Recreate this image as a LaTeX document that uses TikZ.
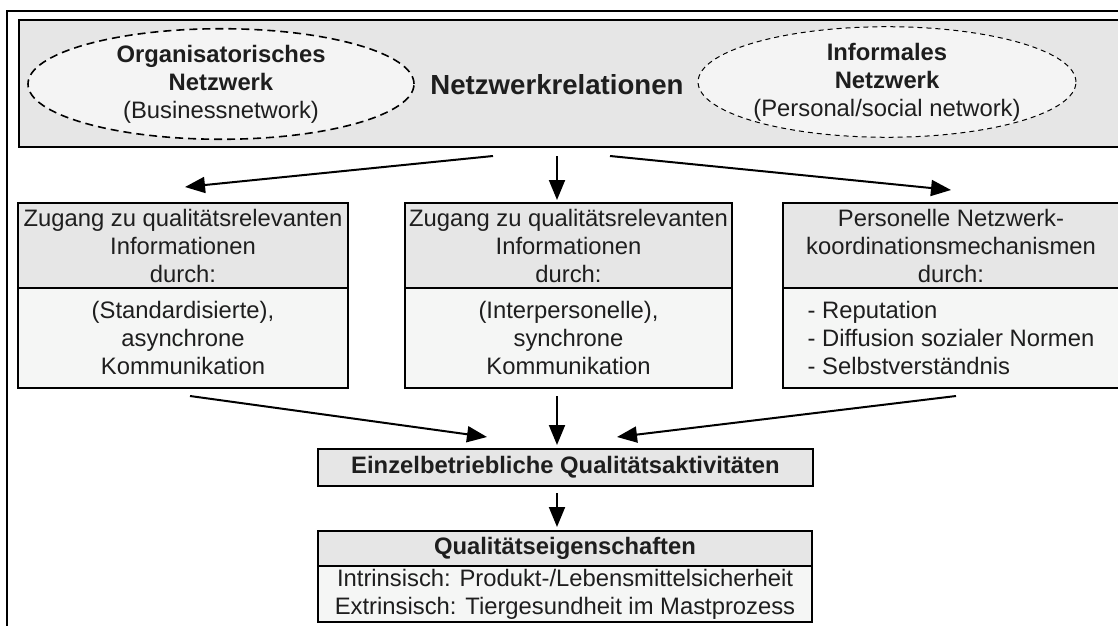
\documentclass[tikz,border=0pt]{standalone}
\usepackage{fontspec}
\setmainfont{Liberation Sans}
\usetikzlibrary{arrows.meta,positioning,shapes.geometric}

\definecolor{kopfgrau}{HTML}{E6E6E6}
\definecolor{rumpfgrau}{HTML}{F5F6F5}
\definecolor{ovalgrau}{HTML}{F4F4F4}
\definecolor{schrift}{HTML}{1E1E1E}

\tikzset{
  kopf/.style={draw, line width=0.8pt, fill=kopfgrau, outer sep=0, inner sep=0, align=center},
  rumpf/.style={draw, line width=0.8pt, fill=rumpfgrau, outer sep=0, inner sep=0, align=center},
  oval/.style={ellipse, draw, dashed, fill=ovalgrau, outer sep=0, inner sep=0, align=center},
  pfeil/.style={line width=1pt, -{Triangle[length=10pt,width=8pt]}},
}

\begin{document}
\begin{tikzpicture}[x=0.5pt, y=-0.5pt, text=schrift, font=\fontsize{11.9}{14}\selectfont]
        \useasboundingbox (0,0) rectangle (1118,626);
        \fill[white] (0,0) rectangle (1118,626);
%%% Start Rahmen
        \draw[line width=0.8pt] (1118,11) -- (7,11) -- (7,626);
%%% End Rahmen
%%% Start Netzwerkrelationen
        \draw (570.5,83.5) node[kopf, line width=1pt, minimum width=551.5pt, minimum height=63.5pt] (netz) {};
        \draw (221,84) node[oval, line width=0.8pt, dash pattern=on 4pt off 2.5pt, minimum width=193pt, minimum height=54pt] (org) {\textbf{Organisatorisches}\\\textbf{Netzwerk}\\(Businessnetwork)};
        \draw (887,82) node[oval, line width=0.5pt, dash pattern=on 2.5pt off 2pt, minimum width=181pt, minimum height=55pt] (inf) {\textbf{Informales}\\\textbf{Netzwerk}\\(Personal/social network)};
        \draw (557,85) node[font=\fontsize{13.8}{16}\selectfont\bfseries] (rel) {Netzwerkrelationen};
%%% End Netzwerkrelationen
%%% Start Zugang / Koordination
        \draw (183,245.5) node[kopf, minimum width=165pt, minimum height=42.5pt] (kopf1) {Zugang zu qualitätsrelevanten\\Informationen\\durch:};
        \draw node[rumpf, below=0pt of kopf1, minimum width=165pt, minimum height=50pt] (rumpf1) {(Standardisierte),\\asynchrone\\Kommunikation};
        \draw (568.5,245.5) node[kopf, minimum width=163.5pt, minimum height=42.5pt] (kopf2) {Zugang zu qualitätsrelevanten\\Informationen\\durch:};
        \draw node[rumpf, below=0pt of kopf2, minimum width=163.5pt, minimum height=50pt] (rumpf2) {(Interpersonelle),\\synchrone\\Kommunikation};
        \draw (951,245.5) node[kopf, minimum width=168pt, minimum height=42.5pt] (kopf3) {Personelle Netzwerk-\\koordinationsmechanismen\\durch:};
        \draw node[rumpf, below=0pt of kopf3, minimum width=168pt, minimum height=50pt, align=left] (rumpf3) {- Reputation\\- Diffusion sozialer Normen\\- Selbstverständnis};
%%% End Zugang / Koordination
%%% Start Qualitaet
        \draw (565.5,467.5) node[kopf, minimum width=247.5pt, minimum height=18.5pt, font=\fontsize{11.9}{14}\selectfont\bfseries] (einz) {Einzelbetriebliche Qualitätsaktivitäten};
        \draw (565,548.5) node[kopf, minimum width=247pt, minimum height=17.5pt, font=\fontsize{11.9}{14}\selectfont\bfseries] (qkopf) {Qualitätseigenschaften};
        \draw node[rumpf, below=0pt of qkopf, minimum width=247pt, minimum height=28pt] (qrumpf) {Intrinsisch: Produkt-/Lebensmittelsicherheit\\Extrinsisch: Tiergesundheit im Mastprozess};
%%% End Qualitaet
%%% Start Pfeile
        \draw[pfeil] ([xshift=-38.75pt, yshift=-4.5pt]netz.south) -- ([xshift=1pt, yshift=8pt]kopf1.north);
        \draw[pfeil] ([xshift=-6.75pt, yshift=-4.5pt]netz.south) -- ([xshift=-5.75pt, yshift=1.5pt]kopf2.north);
        \draw[pfeil] ([xshift=19.75pt, yshift=-4.5pt]netz.south) -- ([yshift=6.5pt]kopf3.north);
        \draw[pfeil] ([xshift=3.5pt, yshift=-4pt]rumpf1.south) -- ([xshift=-39.25pt, yshift=6pt]einz.north);
        \draw[pfeil] ([xshift=-5.75pt, yshift=-4pt]rumpf2.south) -- ([xshift=-4.25pt, yshift=2pt]einz.north);
        \draw[pfeil] ([xshift=2.5pt, yshift=-4pt]rumpf3.south) -- ([xshift=25.75pt, yshift=6pt]einz.north);
        \draw[pfeil] ([xshift=-4.25pt, yshift=-3.5pt]einz.south) -- ([xshift=-4pt, yshift=2pt]qkopf.north);
%%% End Pfeile
\end{tikzpicture}
\end{document}
